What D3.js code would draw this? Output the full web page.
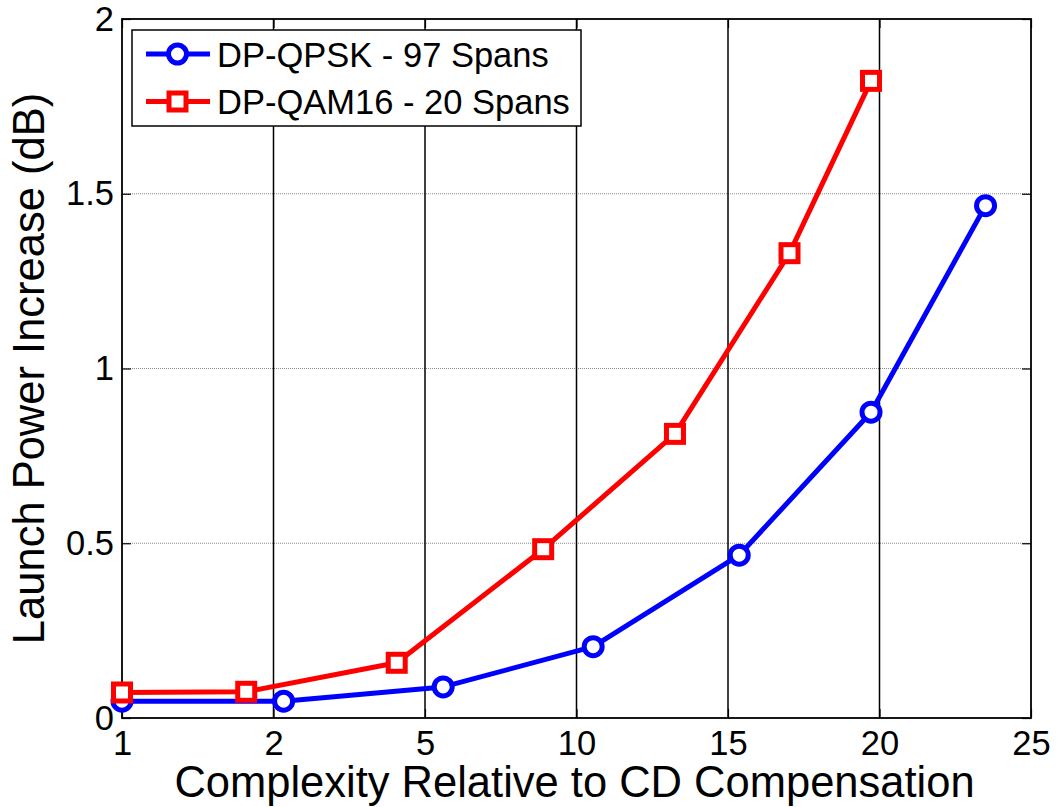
<!DOCTYPE html>
<html>
<head>
<meta charset="utf-8">
<script src="https://cdn.jsdelivr.net/npm/d3@7"></script>
<style>
  html, body { margin: 0; padding: 0; background: #fff; }
  svg { display: block; font-family: "Liberation Sans", Arial, Helvetica, sans-serif; }
</style>
</head>
<body>
<svg id="chart" width="1058" height="807"></svg>
<script>
// Complexity ticks (the axis is piecewise: labels are evenly spaced)
const xTicks = [1, 2, 5, 10, 15, 20, 25];
const yTicks = [0, 0.5, 1, 1.5, 2];

// DP-QPSK, 97 spans
const qpskX = [1, 2.2, 5.6, 10.55, 15.37, 19.72, 23.5];
const qpskY = [0.048, 0.048, 0.089, 0.204, 0.466, 0.875, 1.466];

// DP-QAM16, 20 spans
const qamX = [1, 1.82, 4.44, 8.9, 13.25, 17.03, 19.72];
const qamY = [0.073, 0.075, 0.158, 0.483, 0.813, 1.33, 1.823];

const seriesNames = ["DP-QPSK - 97 Spans", "DP-QAM16 - 20 Spans"];

const margin = { left: 122, top: 19, right: 27, bottom: 89 };
const W = 1058, H = 807;
const iw = W - margin.left - margin.right;
const ih = H - margin.top - margin.bottom;

const svg = d3.select("#chart");
const g = svg.append("g").attr("transform", `translate(${margin.left},${margin.top})`);

const x = d3.scaleLinear()
  .domain(xTicks)
  .range(xTicks.map((_, i) => i * iw / (xTicks.length - 1)));
const y = d3.scaleLinear().domain([0, 2]).range([ih, 0]);

// horizontal grid: dotted gray
g.append("g").selectAll("line")
  .data(yTicks.filter(v => v > 0 && v < 2))
  .join("line")
  .attr("x1", 0).attr("x2", iw)
  .attr("y1", d => y(d)).attr("y2", d => y(d))
  .attr("stroke", "#8a8a8a").attr("stroke-width", 1)
  .attr("stroke-dasharray", "1,1");

// vertical grid: solid black
g.append("g").selectAll("line")
  .data(xTicks.slice(1, -1))
  .join("line")
  .attr("x1", d => x(d)).attr("x2", d => x(d))
  .attr("y1", 0).attr("y2", ih)
  .attr("stroke", "#000").attr("stroke-width", 1.5);

// axes with inward ticks
const tickLen = 9;
const fs = 34.5;
g.append("g").attr("transform", `translate(0,${ih})`)
  .call(d3.axisBottom(x).tickValues(xTicks).tickFormat(d3.format("d"))
    .tickSizeInner(-tickLen).tickSizeOuter(0).tickPadding(13));
g.append("g")
  .call(d3.axisLeft(y).tickValues(yTicks).tickFormat(d => d === 0 ? "0" : String(d))
    .tickSizeInner(-tickLen).tickSizeOuter(0).tickPadding(8));
g.append("g")
  .call(d3.axisTop(x).tickValues(xTicks).tickFormat("").tickSizeInner(-tickLen).tickSizeOuter(0));
g.append("g").attr("transform", `translate(${iw},0)`)
  .call(d3.axisRight(y).tickValues(yTicks).tickFormat("").tickSizeInner(-tickLen).tickSizeOuter(0));

g.selectAll(".domain").remove();
g.selectAll(".tick line").attr("stroke", "#000").attr("stroke-width", 1.2);
g.selectAll(".tick text").attr("fill", "#000").attr("font-size", fs)
  .attr("font-family", "'Liberation Sans', Arial, sans-serif");

// plot box
g.append("rect").attr("x", 0).attr("y", 0).attr("width", iw).attr("height", ih)
  .attr("fill", "none").attr("stroke", "#000").attr("stroke-width", 1.8);

// axis titles
svg.append("text")
  .attr("x", margin.left + iw / 2 - 2).attr("y", 797)
  .attr("text-anchor", "middle").attr("font-size", 43.5).attr("fill", "#000")
  .text("Complexity Relative to CD Compensation");
svg.append("text")
  .attr("transform", `translate(44,${margin.top + ih / 2}) rotate(-90)`)
  .attr("text-anchor", "middle").attr("font-size", 43.5).attr("fill", "#000")
  .text("Launch Power Increase (dB)");

// series
const series = [
  { name: seriesNames[0], xs: qpskX, ys: qpskY, color: "#0000ff", marker: "circle" },
  { name: seriesNames[1], xs: qamX, ys: qamY, color: "#ff0000", marker: "square" }
];
const line = d3.line().x(d => x(d[0])).y(d => y(d[1]));

function drawMarker(sel, type, color) {
  if (type === "circle") {
    sel.append("circle").attr("r", 9)
      .attr("fill", "#fff").attr("stroke", color).attr("stroke-width", 5);
  } else {
    sel.append("rect").attr("x", -8.5).attr("y", -8.5).attr("width", 17).attr("height", 17)
      .attr("fill", "#fff").attr("stroke", color).attr("stroke-width", 5);
  }
}

series.forEach(s => {
  const pts = s.xs.map((v, i) => [v, s.ys[i]]);
  g.append("path").datum(pts).attr("d", line)
    .attr("fill", "none").attr("stroke", s.color).attr("stroke-width", 5)
    .attr("stroke-linejoin", "round");
  g.append("g").selectAll("g").data(pts).join("g")
    .attr("transform", d => `translate(${x(d[0])},${y(d[1])})`)
    .each(function () { drawMarker(d3.select(this), s.marker, s.color); });
});

// legend
const lg = svg.append("g").attr("transform", "translate(132,30)");
lg.append("rect").attr("width", 449).attr("height", 96)
  .attr("fill", "#fff").attr("stroke", "#000").attr("stroke-width", 1.5);
series.forEach((s, i) => {
  const row = lg.append("g").attr("transform", `translate(0,${24 + i * 47.5})`);
  row.append("line").attr("x1", 14).attr("x2", 78).attr("y1", 0).attr("y2", 0)
    .attr("stroke", s.color).attr("stroke-width", 5);
  const m = row.append("g").attr("transform", "translate(45.5,0)");
  drawMarker(m, s.marker, s.color);
  row.append("text").attr("x", 85).attr("y", 12.5).attr("font-size", fs).attr("fill", "#000")
    .text(s.name);
});
</script>
</body>
</html>
